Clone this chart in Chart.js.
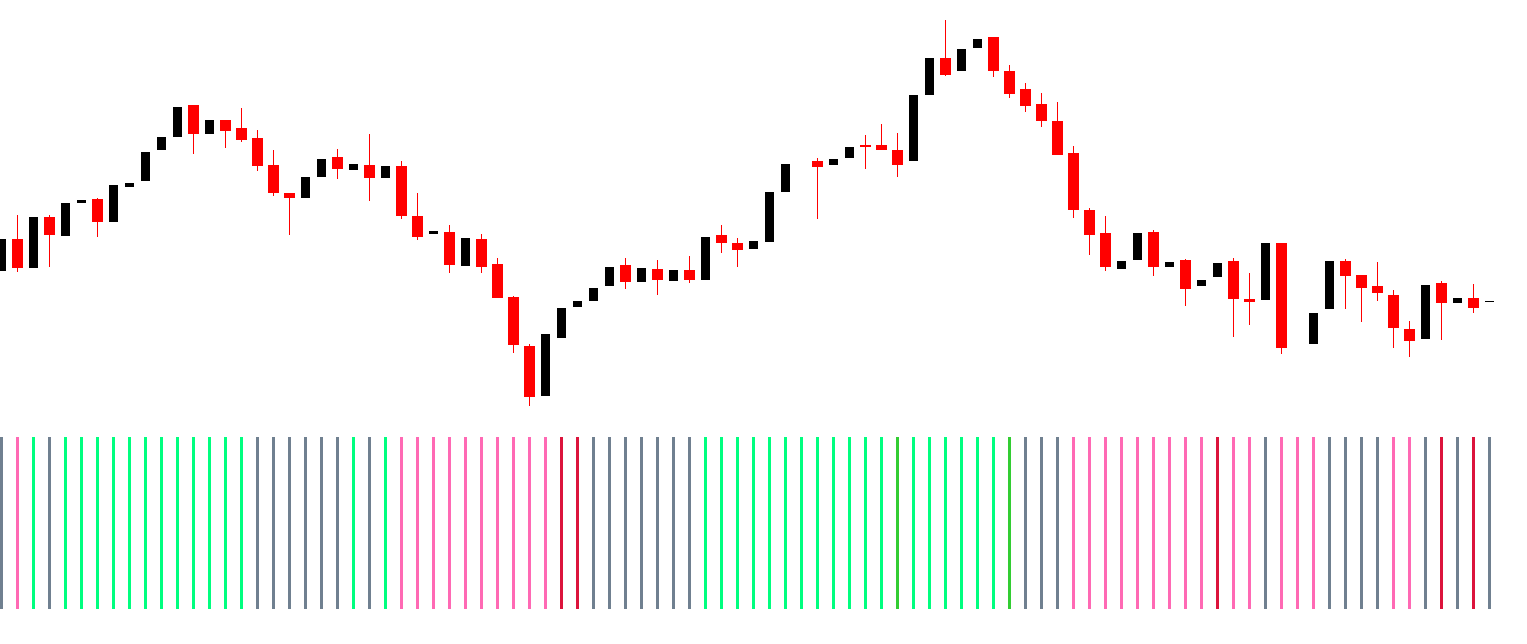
<!DOCTYPE html>
<html>
<head>
<meta charset="utf-8">
<title>Candles with state histogram</title>
<script src="https://cdn.jsdelivr.net/npm/chart.js@4.4.1/dist/chart.umd.min.js"></script>
<style>
  html, body { margin: 0; padding: 0; background: #fff; overflow: hidden; }
  #wrap { position: relative; width: 1527px; height: 644px; }
  #priceBox { position: absolute; left: 0; top: 0; width: 1527px; height: 420px; }
  #histBox { position: absolute; left: 0; top: 437px; width: 1527px; height: 172px; }
</style>
</head>
<body>
<div id="wrap">
  <div id="priceBox"><canvas id="priceChart" width="1527" height="420"></canvas></div>
  <div id="histBox"><canvas id="histChart" width="1527" height="172"></canvas></div>
</div>
<script>
// OHLC (null = no candle drawn on that bar)
const open = [
  1.2149,1.2181,1.2152,1.2203,1.2184,1.2217,1.2221,1.2198,1.2233,1.2239,
  1.2270,1.2283,1.2315,1.2286,1.2300,1.2292,1.2282,1.2255,1.2227,1.2222,
  1.2243,1.2263,1.2250,1.2255,1.2242,1.2254,1.2204,1.2186,1.2188,1.2154,
  1.2181,1.2156,1.2123,1.2074,1.2024,1.2082,1.2113,1.2119,1.2134,1.2155,
  1.2138,1.2151,1.2139,1.2150,1.2140,1.2185,1.2177,1.2171,1.2178,1.2228,
  null,1.2259,1.2255,1.2262,1.2275,1.2275,1.2270,1.2259,1.2325,1.2362,
  1.2349,1.2372,1.2383,1.2349,1.2331,1.2316,1.2299,1.2267,1.2210,1.2187,
  1.2151,1.2160,1.2188,1.2153,1.2160,1.2134,1.2143,1.2159,1.2121,1.2120,
  1.2177,null,1.2076,1.2111,1.2159,1.2145,1.2134,1.2125,1.2091,1.2081,
  1.2137,1.2117,1.2122,1.2118
];
const high = [
  1.2181,1.2205,1.2203,1.2205,1.2217,1.2220,1.2222,1.2235,1.2237,1.2268,
  1.2283,1.2313,1.2315,1.2300,1.2300,1.2312,1.2290,1.2270,1.2227,1.2243,
  1.2261,1.2271,1.2256,1.2286,1.2254,1.2259,1.2227,1.2189,1.2195,1.2182,
  1.2186,1.2162,1.2124,1.2076,1.2086,1.2112,1.2119,1.2132,1.2153,1.2162,
  1.2152,1.2160,1.2150,1.2164,1.2183,1.2195,1.2182,1.2179,1.2228,1.2256,
  null,1.2262,1.2261,1.2273,1.2285,1.2296,1.2287,1.2325,1.2362,1.2400,
  1.2371,1.2381,1.2383,1.2355,1.2337,1.2327,1.2318,1.2274,1.2212,1.2204,
  1.2159,1.2187,1.2190,1.2158,1.2161,1.2140,1.2157,1.2162,1.2147,1.2177,
  1.2177,null,1.2107,1.2159,1.2161,1.2145,1.2158,1.2130,1.2099,1.2135,
  1.2139,1.2122,1.2136,1.2119
];
const low = [
  1.2149,1.2148,1.2152,1.2153,1.2184,1.2217,1.2183,1.2198,1.2233,1.2239,
  1.2270,1.2283,1.2266,1.2286,1.2272,1.2278,1.2249,1.2224,1.2185,1.2222,
  1.2243,1.2241,1.2250,1.2219,1.2242,1.2201,1.2180,1.2186,1.2147,1.2154,
  1.2147,1.2122,1.2067,1.2014,1.2024,1.2082,1.2113,1.2119,1.2134,1.2131,
  1.2138,1.2125,1.2139,1.2137,1.2140,1.2167,1.2153,1.2171,1.2178,1.2228,
  null,1.2201,1.2255,1.2262,1.2251,1.2270,1.2243,1.2259,1.2325,1.2344,
  1.2349,1.2372,1.2343,1.2322,1.2308,1.2293,1.2265,1.2202,1.2165,1.2149,
  1.2151,1.2160,1.2144,1.2153,1.2114,1.2134,1.2143,1.2083,1.2095,1.2120,
  1.2066,null,1.2076,1.2111,1.2111,1.2098,1.2119,1.2072,1.2063,1.2081,
  1.2080,1.2117,1.2107,1.2118
];
const close = [
  1.2181,1.2152,1.2203,1.2185,1.2217,1.2220,1.2198,1.2235,1.2237,1.2268,
  1.2283,1.2313,1.2286,1.2300,1.2289,1.2280,1.2254,1.2227,1.2222,1.2243,
  1.2261,1.2251,1.2256,1.2242,1.2254,1.2204,1.2183,1.2189,1.2155,1.2182,
  1.2153,1.2122,1.2075,1.2023,1.2086,1.2112,1.2119,1.2132,1.2153,1.2138,
  1.2152,1.2140,1.2150,1.2140,1.2183,1.2177,1.2170,1.2179,1.2228,1.2256,
  null,1.2253,1.2261,1.2273,1.2273,1.2270,1.2255,1.2325,1.2362,1.2345,
  1.2371,1.2381,1.2349,1.2326,1.2314,1.2299,1.2265,1.2210,1.2185,1.2153,
  1.2159,1.2187,1.2153,1.2158,1.2131,1.2140,1.2157,1.2121,1.2118,1.2177,
  1.2072,null,1.2107,1.2159,1.2144,1.2132,1.2127,1.2092,1.2079,1.2135,
  1.2117,1.2122,1.2112,1.2119
];

// state of the lower histogram, one per bar
const histState = [
  'flat','down','up','flat','up','up','up','up','up','up',
  'up','up','up','up','up','up','flat','flat','flat','flat',
  'flat','flat','up','flat','up','down','down','down','down','down',
  'down','down','down','down','down','down2','down2','flat','flat','flat',
  'flat','flat','flat','flat','up','up','up','up','up','up',
  'up','up','up','up','up','up','up2','up','up','up',
  'up','up','up','up2','flat','flat','flat','down','down','down',
  'down','down','down','down','down','down','down2','down','down','flat',
  'down','down','down','flat','flat','flat','flat','down','down','flat',
  'down2','flat','down2','flat'
];

const stateColors = {
  flat: '#708090',
  down: '#FF69B4',
  down2: '#DC143C',
  up: '#00FF7F',
  up2: '#32CD32'
};

const labels = open.map((_, i) => i);

// bodies and wicks as floating bars
const isDown = i => open[i] != null && close[i] < open[i];
const isUp = i => open[i] != null && close[i] >= open[i];

const redBody = open.map((o, i) => isDown(i) ? [o, close[i]] : null);
const blackBody = open.map((o, i) => isUp(i) ? [o, close[i]] : null);
const wicks = open.map((o, i) => o == null ? null : [low[i], high[i]]);
const wickColors = open.map((o, i) => isDown(i) ? '#ff0000' : '#000000');

const common = { grouped: false, borderWidth: 0, inflateAmount: 0, clip: false };

new Chart(document.getElementById('priceChart'), {
  type: 'bar',
  data: {
    labels: labels,
    datasets: [
      Object.assign({ label: 'down', data: redBody, backgroundColor: '#ff0000', barThickness: 11, order: 1 }, common),
      Object.assign({ label: 'up', data: blackBody, backgroundColor: '#000000', barThickness: 9, order: 1 }, common),
      Object.assign({ label: 'wick', data: wicks, backgroundColor: wickColors, barThickness: 1, order: 2 }, common)
    ]
  },
  options: {
    responsive: false,
    animation: false,
    events: [],
    layout: { padding: { left: 1.5, right: 37.5, top: 0, bottom: 0 } },
    plugins: { legend: { display: false }, tooltip: { enabled: false } },
    scales: {
      x: { type: 'category', offset: false, display: false, grid: { display: false } },
      y: { display: false, min: 1.2, max: 1.242, grid: { display: false } }
    }
  }
});

new Chart(document.getElementById('histChart'), {
  type: 'bar',
  data: {
    labels: labels,
    datasets: [{
      label: 'state',
      data: histState.map(() => 1),
      backgroundColor: histState.map(s => stateColors[s]),
      barThickness: 3,
      borderWidth: 0,
      inflateAmount: 0,
      clip: false
    }]
  },
  options: {
    responsive: false,
    animation: false,
    events: [],
    layout: { padding: { left: 1.5, right: 37.5, top: 0, bottom: 0 } },
    plugins: { legend: { display: false }, tooltip: { enabled: false } },
    scales: {
      x: { type: 'category', offset: false, display: false, grid: { display: false } },
      y: { display: false, min: 0, max: 1, grid: { display: false } }
    }
  }
});
</script>
</body>
</html>
